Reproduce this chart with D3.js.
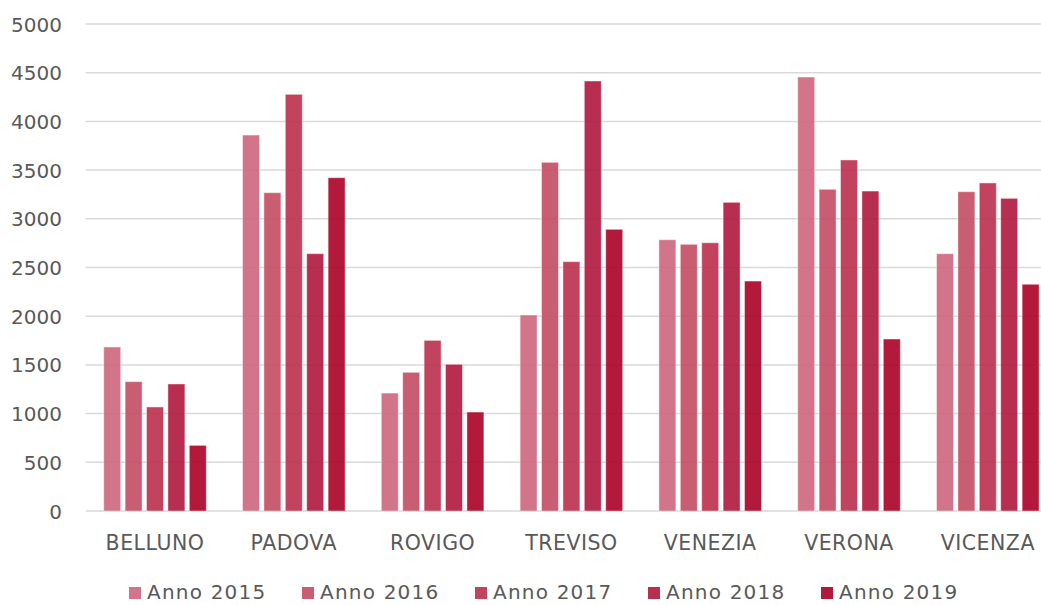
<!DOCTYPE html>
<html>
<head>
<meta charset="utf-8">
<script src="https://cdn.jsdelivr.net/npm/d3@7"></script>
<style>
  html, body { margin: 0; padding: 0; background: #ffffff; overflow: hidden; }
  svg text { font-family: "DejaVu Sans", sans-serif; fill: #595959; }
</style>
</head>
<body>
<svg id="chart" width="1041" height="605"></svg>
<script>
// Province names along the x axis
const provinces = ["BELLUNO", "PADOVA", "ROVIGO", "TREVISO", "VENEZIA", "VERONA", "VICENZA"];
// One series per year
const years = ["Anno 2015", "Anno 2016", "Anno 2017", "Anno 2018", "Anno 2019"];
const values2015 = [1684, 3860, 1211, 2012, 2785, 4456, 2642];
const values2016 = [1328, 3268, 1424, 3580, 2738, 3303, 3278];
const values2017 = [1068, 4278, 1752, 2560, 2754, 3604, 3368];
const values2018 = [1304, 2642, 1506, 4415, 3169, 3285, 3210];
const values2019 = [674, 3422, 1016, 2892, 2361, 1766, 2328];
const seriesValues = [values2015, values2016, values2017, values2018, values2019];
const yTicks = [0, 500, 1000, 1500, 2000, 2500, 3000, 3500, 4000, 4500, 5000];
const colors = ["#ce667d", "#c34b62", "#ba2f4d", "#b0173d", "#ab0026"];

const svg = d3.select("#chart");
// the plot area runs a little past the right edge of the drawing
const plot = { left: 85.6, right: 1057.2, top: 24, bottom: 511 };

const y = d3.scaleLinear().domain([0, 5000]).range([plot.bottom, plot.top]);
const x0 = d3.scaleBand().domain(provinces).range([plot.left, plot.right]).padding(0);
const groupPad = 18.1;
const x1 = d3.scaleBand().domain(years).range([groupPad, x0.bandwidth() - groupPad]).paddingInner(0.206).paddingOuter(0);

// Horizontal gridlines
svg.append("g")
  .selectAll("line")
  .data(yTicks)
  .join("line")
  .attr("x1", plot.left)
  .attr("x2", plot.right)
  .attr("y1", d => y(d))
  .attr("y2", d => y(d))
  .attr("stroke", "#d9d9d9")
  .attr("stroke-width", 1.5);

// Y axis labels
const yAxis = d3.axisLeft(y).tickValues(yTicks).tickSize(0).tickPadding(0).tickFormat(d3.format("d"));
const yg = svg.append("g").attr("transform", `translate(62,0)`).call(yAxis);
yg.select(".domain").remove();
yg.selectAll("text").style("font-size", "20px").attr("fill", "#595959").attr("dy", "0.35em");

// Bars
const rows = provinces.map((p, i) => ({ province: p, vals: years.map((yr, s) => ({ year: yr, s, v: seriesValues[s][i] })) }));
svg.append("g")
  .selectAll("g")
  .data(rows)
  .join("g")
  .attr("transform", d => `translate(${x0(d.province)},0)`)
  .selectAll("rect")
  .data(d => d.vals)
  .join("rect")
  .attr("x", d => x1(d.year))
  .attr("width", x1.bandwidth())
  .attr("y", d => y(d.v))
  .attr("height", d => y(0) - y(d.v))
  .attr("fill", d => colors[d.s])
  .attr("fill-opacity", 0.9)
  .attr("stroke", "#ffffff")
  .attr("stroke-opacity", 0.45)
  .attr("stroke-width", 1);

// Category labels
const xAxis = d3.axisBottom(x0).tickSize(0).tickPadding(0);
const xg = svg.append("g").attr("transform", `translate(0,${plot.bottom + 39})`).call(xAxis);
xg.select(".domain").remove();
xg.selectAll("text").style("font-size", "20.5px").style("letter-spacing", "0.5px").attr("fill", "#595959").attr("dy", 0).attr("y", 0);

// Legend
const legend = svg.append("g").attr("transform", "translate(129,0)");
const item = legend.selectAll("g")
  .data(years)
  .join("g")
  .attr("transform", (d, i) => `translate(${i * 173},0)`);
item.append("rect")
  .attr("x", 0).attr("y", 587)
  .attr("width", 12).attr("height", 12)
  .attr("fill", (d, i) => colors[i])
  .attr("fill-opacity", 0.9);
item.append("text")
  .attr("x", 18).attr("y", 599)
  .style("font-size", "20px")
  .style("letter-spacing", "1.2px")
  .text(d => d);
</script>
</body>
</html>
